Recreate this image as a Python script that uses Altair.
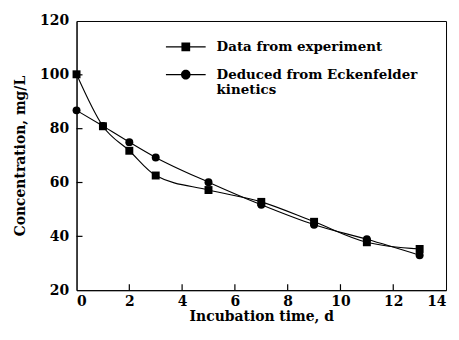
import altair as alt
import pandas as pd

days = [0, 1, 2, 3, 5, 7, 9, 11, 13]
experiment = [100.2, 80.9, 71.8, 62.6, 57.2, 52.8, 45.4, 37.8, 35.3]
eckenfelder = [86.8, 81.0, 75.0, 69.3, 60.1, 51.7, 44.3, 38.9, 33.0]
series_names = ["Data from experiment", "Deduced from Eckenfelder kinetics"]
x_ticks = [0, 2, 4, 6, 8, 10, 12, 14]
y_ticks = [20, 40, 60, 80, 100, 120]

rows = []
for d, e, k in zip(days, experiment, eckenfelder):
    rows.append({"day": d, "conc": e, "series": series_names[0]})
    rows.append({"day": d, "conc": k, "series": series_names[1]})
df = pd.DataFrame(rows)

F = "DejaVu Serif"
sq_path = "M-1,-0.03H1V0.03H-1ZM-0.22,-0.22H0.22V0.22H-0.22Z"
ci_path = "M-1,-0.03H1V0.03H-1ZM0.24,0A0.24,0.24,0,1,1,-0.24,0A0.24,0.24,0,1,1,0.24,0Z"

W, H = 372, 271
xscale = alt.Scale(domain=[0, 14], nice=False)
yscale = alt.Scale(domain=[20, 120], nice=False)

xaxis = alt.Axis(title="Incubation time, d", values=x_ticks,
                 ticks=False, grid=False, domainColor="black", labelFont=F,
                 labelFontSize=14, labelFontWeight="bold", labelColor="black",
                 labelPadding=4, titleFont=F, titleFontSize=14,
                 titleFontWeight="bold", titleColor="black", titlePadding=2)
yaxis = alt.Axis(title="Concentration, mg/L", values=y_ticks,
                 ticks=False, grid=False, domainColor="black", labelFont=F,
                 labelFontSize=14, labelFontWeight="bold", labelColor="black",
                 labelPadding=8, titleFont=F, titleFontSize=14,
                 titleFontWeight="bold", titleColor="black", titlePadding=12)

def X(f):
    return alt.X(f, scale=xscale, axis=xaxis)

def Y(f):
    return alt.Y(f, scale=yscale, axis=yaxis)

lines = alt.Chart(df).mark_line(color="black", strokeWidth=1.1, interpolate="monotone").encode(
    x=X("day:Q"), y=Y("conc:Q"), detail="series:N")

points = alt.Chart(df).mark_point(filled=True, color="black", opacity=1, size=64).encode(
    x=X("day:Q"), y=Y("conc:Q"),
    shape=alt.Shape("series:N", scale=alt.Scale(domain=series_names, range=["square", "circle"]),
                    legend=None))

yt = pd.DataFrame({"v": y_ticks[1:-1]})
xt = pd.DataFrame({"v": x_ticks[1:-1]})
ytick_layer = alt.Chart(yt).mark_rule(color="black", strokeWidth=1.2).encode(
    y=Y("v:Q"), x=alt.value(0), x2=alt.value(6))
xtick_layer = alt.Chart(xt).mark_rule(color="black", strokeWidth=1.2).encode(
    x=X("v:Q"), y=alt.value(H), y2=alt.value(H - 6))

legend_layer = alt.Chart(df).transform_calculate(series2="datum.series").mark_point(
    filled=False, fill="black", stroke="black", strokeWidth=1.3, opacity=0).encode(
    x=X("day:Q"), y=Y("conc:Q"),
    shape=alt.Shape("series2:N", scale=alt.Scale(domain=series_names, range=[sq_path, ci_path]),
                    legend=alt.Legend(title=None, orient="none", legendX=89, legendY=5,
                                      symbolOpacity=1, symbolSize=1600, symbolStrokeWidth=1.3,
                                      symbolFillColor="black", symbolStrokeColor="black",
                                      labelFont=F, labelFontSize=13.5, labelFontWeight="bold",
                                      labelColor="black", labelLimit=400, labelOffset=10,
                                      rowPadding=-26,
                                      labelExpr="datum.label == 'Deduced from Eckenfelder kinetics' ? ['Deduced from Eckenfelder', 'kinetics'] : datum.label")))

chart = alt.layer(lines, points, ytick_layer, xtick_layer, legend_layer).resolve_scale(
    shape="independent").properties(width=W, height=H, background="white").configure_view(
    stroke="black", strokeWidth=1)

chart.save("out.html", embed_options={"renderer": "svg", "actions": False})
